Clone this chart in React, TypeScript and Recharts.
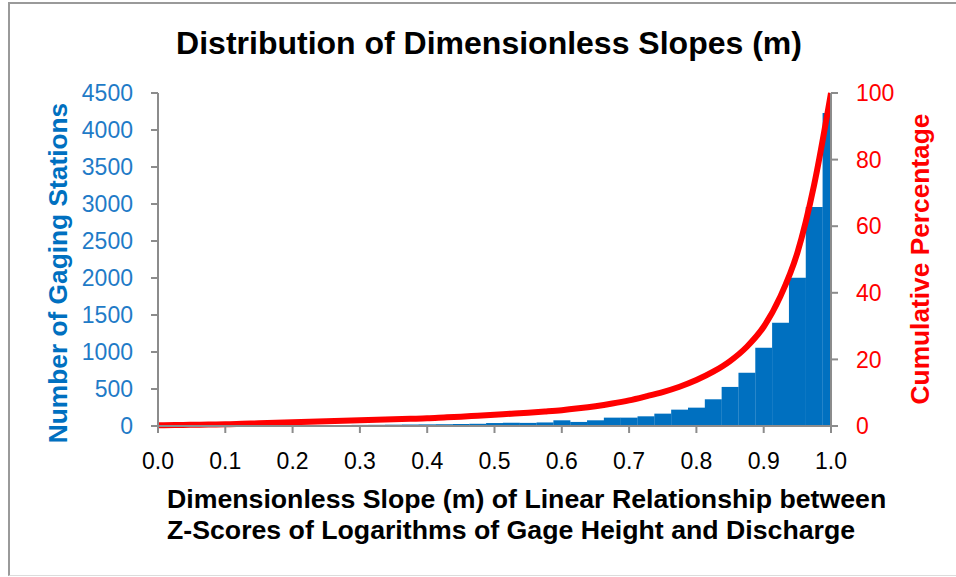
import { ComposedChart, Bar, Line, XAxis, YAxis } from "recharts";

// bin centres of the dimensionless slope m (bins 0.025 wide)
const slopeBins = [
  0.0, 0.025, 0.05, 0.075, 0.1, 0.125, 0.15, 0.175, 0.2, 0.225, 0.25, 0.275, 0.3, 0.325,
  0.35, 0.375, 0.4, 0.425, 0.45, 0.475, 0.5, 0.525, 0.55, 0.575, 0.6, 0.625, 0.65, 0.675,
  0.7, 0.725, 0.75, 0.775, 0.8, 0.825, 0.85, 0.875, 0.9, 0.925, 0.95, 0.975, 1.0,
];

// number of gaging stations per bin
const stationCounts = [
  3, 4, 5, 5, 6, 7, 8, 9, 10, 11, 12, 13, 15, 16,
  18, 20, 22, 24, 27, 30, 40, 45, 42, 48, 77, 55, 77, 113,
  113, 131, 167, 221, 248, 361, 528, 718, 1056, 1395, 2004, 2961, 4230,
];

// cumulative percentage of stations
const cumulativePct = [
  0.2, 0.3, 0.35, 0.45, 0.5, 0.65, 0.8, 0.95, 1.1, 1.25, 1.4, 1.55, 1.7, 1.85,
  2.0, 2.15, 2.3, 2.55, 2.8, 3.1, 3.4, 3.7, 4.0, 4.35, 4.75, 5.3, 5.95, 6.75,
  7.7, 8.9, 10.2, 11.8, 13.8, 16.3, 19.5, 23.8, 29.8, 39.0, 52.0, 72.5, 100,
];

const xTicks = [0, 0.1, 0.2, 0.3, 0.4, 0.5, 0.6, 0.7, 0.8, 0.9, 1.0];
const leftTicks = [0, 500, 1000, 1500, 2000, 2500, 3000, 3500, 4000, 4500];
const rightTicks = [0, 20, 40, 60, 80, 100];

const data = slopeBins.map((m, i) => ({
  m,
  count: stationCounts[i],
  cum: cumulativePct[i],
}));

const BLUE = "#0070C0";
const RED = "#FF0000";
const AXIS = "#8c8c8c";
const FONT = "'Liberation Sans', Arial, sans-serif";

export default function App() {
  const axisLine = { stroke: AXIS, strokeWidth: 2 };
  return (
    <div
      style={{
        position: "fixed",
        left: 0,
        top: 0,
        width: 956,
        height: 577,
        overflow: "hidden",
        background: "#fff",
      }}
    >
      <div
        style={{
          position: "absolute",
          left: 8,
          top: 2,
          width: 960,
          height: 571,
          borderLeft: "2px solid #9a9a9a",
          borderTop: "2px solid #9a9a9a",
          borderBottom: "1px solid #dcdcdc",
        }}
      />
      <ComposedChart
        width={956}
        height={577}
        data={data}
        margin={{ top: 93, right: 65, bottom: 111, left: 98 }}
        barCategoryGap={0}
        style={{ position: "absolute", left: 0, top: 0 }}
      >
        <XAxis
          dataKey="m"
          type="number"
          domain={[0, 1]}
          ticks={xTicks}
          allowDataOverflow
          height={40}
          axisLine={axisLine}
          tickLine={axisLine}
          tickSize={7}
          tickMargin={20}
          tickFormatter={(v: number) => v.toFixed(1)}
          tick={{ fill: "#000", fontSize: 23, fontFamily: FONT }}
        />
        <YAxis
          yAxisId="left"
          domain={[0, 4500]}
          ticks={leftTicks}
          width={60}
          axisLine={axisLine}
          tickLine={axisLine}
          tickSize={7}
          tickMargin={18}
          tick={{ fill: "#1f7bc7", fontSize: 23, fontFamily: FONT }}
        />
        <YAxis
          yAxisId="right"
          orientation="right"
          domain={[0, 100]}
          ticks={rightTicks}
          width={60}
          axisLine={axisLine}
          tickLine={axisLine}
          tickSize={7}
          tickMargin={18}
          tick={{ fill: RED, fontSize: 23, fontFamily: FONT }}
        />
        <Bar yAxisId="left" dataKey="count" fill={BLUE} isAnimationActive={false} />
        <Line
          yAxisId="right"
          dataKey="cum"
          type="monotone"
          stroke={RED}
          strokeWidth={6}
          dot={false}
          isAnimationActive={false}
        />
      </ComposedChart>
      <svg
        width={956}
        height={577}
        style={{ position: "absolute", left: 0, top: 0, pointerEvents: "none" }}
        fontFamily={FONT}
        fontWeight="bold"
      >
        <text x={489} y={54} textAnchor="middle" fontSize={32} fill="#000">
          Distribution of Dimensionless Slopes (m)
        </text>
        <text x={167} y={508} fontSize={26.7} fill="#000">
          Dimensionless Slope (m) of Linear Relationship between
        </text>
        <text x={167} y={539} fontSize={26.7} fill="#000">
          Z-Scores of Logarithms of Gage Height and Discharge
        </text>
        <text
          transform="translate(67 273) rotate(-90)"
          textAnchor="middle"
          fontSize={26.3}
          fill={BLUE}
        >
          Number of Gaging Stations
        </text>
        <text
          transform="translate(929 259) rotate(-90)"
          textAnchor="middle"
          fontSize={26.3}
          fill={RED}
        >
          Cumulative Percentage
        </text>
      </svg>
    </div>
  );
}
